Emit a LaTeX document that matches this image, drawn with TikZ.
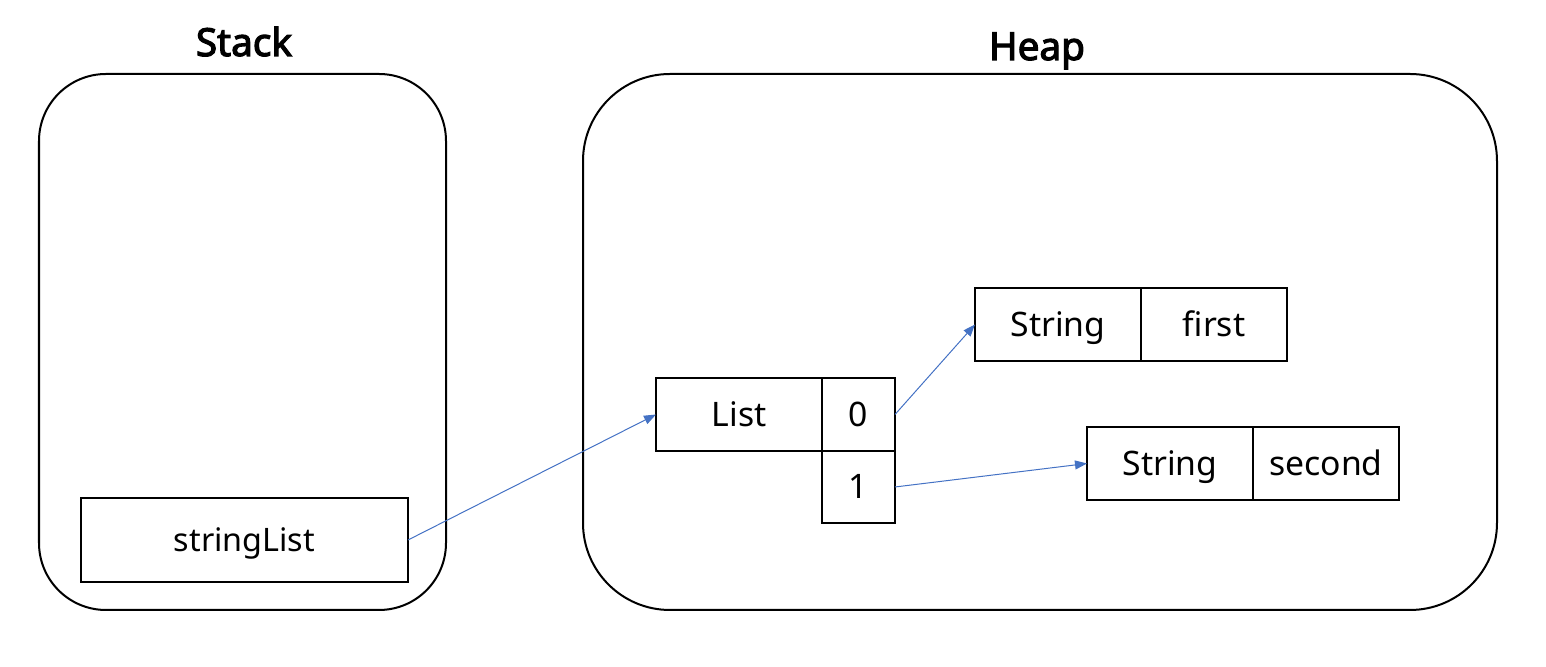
\documentclass[tikz,border=0pt]{standalone}
\usepackage{fontspec}
\setmainfont{Noto Sans}[AutoFakeBold=3]
\usetikzlibrary{positioning,arrows.meta}
\tikzstyle{region} = [draw=black,line width=0.02cm]
\tikzstyle{cell} = [rectangle, draw=black, line width=0.02cm, outer sep=0pt, inner sep=0pt, minimum height=0.73cm, text height=0.24cm, text depth=0cm, text centered, font=\fontsize{9.6}{11}\selectfont]
\tikzstyle{title} = [anchor=base, font=\fontsize{11}{12}\selectfont\bfseries]
\tikzstyle{ref} = [-{Triangle[length=0.12cm,width=0.09cm]}, draw={rgb,255:red,68;green,114;blue,196}, line width=0.01cm]

\begin{document}
\begin{tikzpicture}
		\useasboundingbox (0,0) rectangle (15.46,6.67);
		% memory areas
		\draw [region, rounded corners=0.67cm] (0.39,0.57) rectangle (4.46,5.93);
		\draw [region, rounded corners=0.87cm] (5.83,0.57) rectangle (14.97,5.93);
		\node (stack-title) [title] at (2.44,6.11) {Stack};
		\node (heap-title) [title] at (10.37,6.07) {Heap};
		
		\node (string-list) [cell, minimum width=3.27cm, minimum height=0.84cm, text height=0.23cm, font=\fontsize{9.2}{11}\selectfont] at (2.445,1.27) {stringList};
		\node (list) [cell, minimum width=1.66cm] at (7.39,2.525) {List};
		\node (idx-0) [cell, minimum width=0.73cm, right=0 of list] {0};
		\node (idx-1) [cell, minimum width=0.73cm, minimum height=0.72cm, below=0 of idx-0] {1};
		\node (str-first) [cell, minimum width=1.66cm] at (10.58,3.425) {String};
		\node (val-first) [cell, minimum width=1.46cm, right=0 of str-first] {first};
		\node (str-second) [cell, minimum width=1.66cm] at (11.70,2.035) {String};
		\node (val-second) [cell, minimum width=1.46cm, right=0 of str-second] {second};
		
		\draw [ref] (string-list.east) -- (list.west);
		\draw [ref] (idx-0.east) -- (str-first.west);
		\draw [ref] (idx-1.east) -- (str-second.west);
	
	\end{tikzpicture}
\end{document}
